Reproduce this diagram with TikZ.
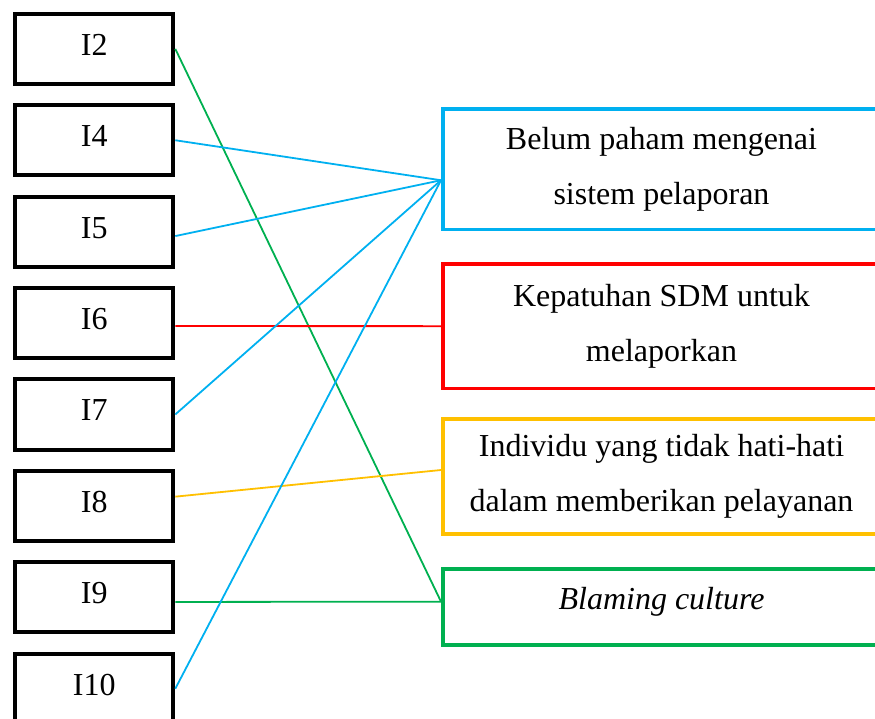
\documentclass[tikz,border=0pt]{standalone}
\usepackage{fontspec}
\setmainfont{Liberation Serif}
\usetikzlibrary{positioning}
\definecolor{skyblue}{RGB}{0,176,240}
\definecolor{goldyellow}{RGB}{255,192,0}
\definecolor{leafgreen}{RGB}{0,176,80}
\tikzset{
  ibox/.style={rectangle,draw,line width=2pt,minimum width=79pt,minimum height=35.15pt,text depth=4pt},
  cbox/.style={rectangle,draw,line width=1.8pt,minimum width=218.7pt,align=center},
  link/.style={line width=0.9pt}
}

\begin{document}
\begin{tikzpicture}[x=0.5pt,y=-0.5pt,node distance=8.55pt,font=\fontsize{16}{27.5}\selectfont]
\useasboundingbox (0,0) rectangle (875,719);
\node[ibox] (i2) at (94.3,48.85) {I2};
\node[ibox, below=of i2] (i4) {I4};
\node[ibox, below=of i4] (i5) {I5};
\node[ibox, below=of i5] (i6) {I6};
\node[ibox, below=of i6] (i7) {I7};
\node[ibox, below=of i7] (i8) {I8};
\node[ibox, below=of i8] (i9) {I9};
\node[ibox, below=of i9] (i10) {I10};
\node[cbox, draw=skyblue, minimum height=60.25pt] (paham) at (661.5,169.25) {Belum paham mengenai\\sistem pelaporan};
\node[cbox, draw=red, minimum height=62.15pt] (patuh) at (661.5,326.15) {Kepatuhan SDM untuk\\melaporkan};
\node[cbox, draw=goldyellow, minimum height=57.5pt] (hati) at (661.5,476.5) {Individu yang tidak hati-hati\\dalam memberikan pelayanan};
\node[cbox, draw=leafgreen, minimum height=38.15pt, text depth=8pt] (blame) at (661.5,606.85) {\textit{Blaming culture}};
\coordinate (pin) at ([yshift=-5.5pt]paham.west);
\coordinate (bin) at ([yshift=2.6pt]blame.west);
\draw[link, leafgreen] (i2.east) -- (bin);
\draw[link, skyblue] (i4.east) -- (pin);
\draw[link, skyblue] ([yshift=-2.2pt]i5.east) -- (pin);
\draw[link, red] ([yshift=-1.5pt]i6.east) -- (patuh.west);
\draw[link, skyblue] (i7.east) -- (pin);
\draw[link, goldyellow] ([yshift=4.6pt]i8.east) -- ([yshift=3.25pt]hati.west);
\draw[link, leafgreen] ([yshift=-2.35pt]i9.east) -- (bin);
\draw[link, skyblue] (i10.east) -- (pin);
\end{tikzpicture}
\end{document}
